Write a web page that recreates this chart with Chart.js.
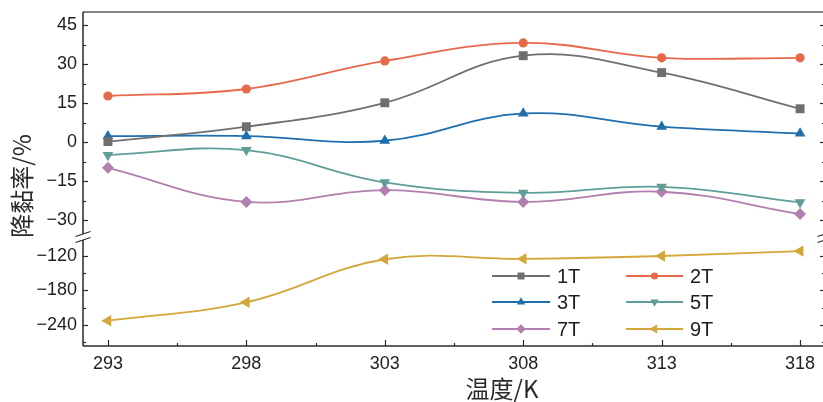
<!DOCTYPE html>
<html><head><meta charset="utf-8">
<script src="https://cdn.jsdelivr.net/npm/chart.js@4/dist/chart.umd.min.js"></script>
<style>html,body{margin:0;padding:0;background:#fff;overflow:hidden;width:823px;height:402px}canvas{display:block}</style>
</head><body>
<canvas id="c" width="835" height="402"></canvas>
<script>
// ---- data ----
const temps = [293, 298, 303, 308, 313, 318];
const s1T = [0.2, 5.9, 15.1, 33.2, 26.7, 12.8];
const s2T = [17.7, 20.4, 31.2, 38.1, 32.4, 32.4];
const s3T = [2.3, 2.3, 0.5, 11.0, 5.9, 3.3];
const s5T = [-5.0, -3.1, -15.5, -19.5, -17.2, -23.2];
const s7T = [-9.9, -23.0, -18.5, -23.0, -19.1, -27.7];
const s9T = [-232.5, -200.5, -125.7, -125.0, -120.0, -111.5];
const seriesLabels = ['1T', '2T', '3T', '5T', '7T', '9T'];
const upperTicks = [45, 30, 15, 0, -15, -30];
const lowerTicks = [-120, -180, -240];
const xTicks = [293, 298, 303, 308, 313, 318];
const upperMinor = [37.5, 22.5, 7.5, -7.5, -22.5];
const lowerMinor = [-150, -210, -270];
const xMinor = [295.5, 300.5, 305.5, 310.5, 315.5];
const xTitle = '温度/K';
const yTitle = '降黏率/%';

const colors = ['#6f6f72', '#e8694a', '#1f6eae', '#5f9e97', '#b27fae', '#d4a73a'];
const styles = [
  {ps: 'rect', rot: 0, r: 6.3},
  {ps: 'circle', rot: 0, r: 4.6},
  {ps: 'triangle', rot: 0, r: 6.2},
  {ps: 'triangle', rot: 180, r: 6.2},
  {ps: 'rectRot', rot: 0, r: 6.0},
  {ps: 'triangle', rot: -90, r: 6.6}
];
const values = [s1T, s2T, s3T, s5T, s7T, s9T];
const axisOf = ['yTop', 'yTop', 'yTop', 'yTop', 'yTop', 'yBot'];

const tickFont = {family: '"Liberation Sans", Arial, sans-serif', size: 18};
const fmt = v => (v < 0 ? '\u2212' + Math.abs(v) : String(v));

const datasets = values.map((vals, i) => ({
  label: seriesLabels[i],
  data: temps.map((t, j) => ({x: t, y: vals[j]})),
  yAxisID: axisOf[i],
  xAxisID: 'x',
  borderColor: colors[i],
  backgroundColor: colors[i],
  borderWidth: 1.8,
  pointStyle: styles[i].ps,
  pointRotation: styles[i].rot,
  pointRadius: styles[i].r,
  pointHoverRadius: styles[i].r,
  pointBorderWidth: 0,
  tension: 0.4,
  fill: false
}));

function marker(ctx, ps, rot, r, x, y, color) {
  ctx.save();
  ctx.fillStyle = color;
  ctx.translate(x, y);
  ctx.rotate(rot * Math.PI / 180);
  ctx.beginPath();
  if (ps === 'circle') {
    ctx.arc(0, 0, r, 0, Math.PI * 2);
  } else if (ps === 'rect') {
    const s = Math.SQRT1_2 * r;
    ctx.rect(-s, -s, 2 * s, 2 * s);
  } else if (ps === 'rectRot') {
    ctx.moveTo(-r, 0); ctx.lineTo(0, -r); ctx.lineTo(r, 0); ctx.lineTo(0, r); ctx.closePath();
  } else if (ps === 'triangle') {
    for (let k = 0; k < 3; k++) {
      const a = k * 2 * Math.PI / 3;
      const px = Math.sin(a) * r, py = -Math.cos(a) * r;
      if (k === 0) ctx.moveTo(px, py); else ctx.lineTo(px, py);
    }
    ctx.closePath();
  }
  ctx.fill();
  ctx.restore();
}

const framePlugin = {
  id: 'frame',
  beforeDatasetsDraw(chart) {
    const ctx = chart.ctx;
    const {left, right, top, bottom} = chart.chartArea;
    const yT = chart.scales.yTop, yB = chart.scales.yBot, xs = chart.scales.x;
    const brk = yT.bottom;
    ctx.save();
    ctx.lineCap = 'butt';
    ctx.strokeStyle = '#5a5a5a';
    ctx.lineWidth = 1.6;
    ctx.beginPath(); ctx.moveTo(left, top); ctx.lineTo(right, top); ctx.stroke();
    ctx.strokeStyle = '#2a2a2a';
    ctx.lineWidth = 1.5;
    [left, right].forEach(ax => {
      ctx.beginPath();
      ctx.moveTo(ax, top); ctx.lineTo(ax, brk - 3);
      ctx.moveTo(ax, brk + 3); ctx.lineTo(ax, bottom);
      ctx.stroke();
      ctx.lineWidth = 1.2;
      [-3, 3].forEach(d => {
        ctx.beginPath();
        ctx.moveTo(ax - 7.5, brk + d + 2.5);
        ctx.lineTo(ax + 7.5, brk + d - 2.5);
        ctx.stroke();
      });
      ctx.lineWidth = 1.5;
    });
    ctx.beginPath(); ctx.moveTo(left, bottom); ctx.lineTo(right, bottom); ctx.stroke();
    ctx.lineWidth = 1.2;
    const hTick = (sc, v, len) => {
      const y = Math.round(sc.getPixelForValue(v)) + 0.5;
      ctx.beginPath(); ctx.moveTo(left, y); ctx.lineTo(left + len, y); ctx.stroke();
      ctx.beginPath(); ctx.moveTo(right, y); ctx.lineTo(right - len, y); ctx.stroke();
    };
    upperTicks.forEach(v => hTick(yT, v, 5));
    upperMinor.forEach(v => hTick(yT, v, 3));
    lowerTicks.forEach(v => hTick(yB, v, 5));
    lowerMinor.forEach(v => hTick(yB, v, 3));
    const vTick = (v, len) => {
      const x = Math.round(xs.getPixelForValue(v)) + 0.5;
      ctx.beginPath(); ctx.moveTo(x, bottom); ctx.lineTo(x, bottom - len); ctx.stroke();
    };
    xTicks.forEach(v => vTick(v, 6));
    xMinor.forEach(v => vTick(v, 3));
    ctx.restore();
  },
  afterDraw(chart) {
    const ctx = chart.ctx;
    ctx.save();
    const ds = chart.data.datasets;
    const rowsY = [276, 302, 329];
    const cols = [{x1: 492, x2: 550, tx: 557}, {x1: 626, x2: 683, tx: 690}];
    ctx.font = '20px "Liberation Sans", Arial, sans-serif';
    ctx.textBaseline = 'middle';
    ctx.textAlign = 'left';
    ds.forEach((d, i) => {
      const row = Math.floor(i / 2), col = i % 2;
      const y = rowsY[row], c = cols[col];
      ctx.strokeStyle = d.borderColor;
      ctx.lineWidth = 1.8;
      ctx.beginPath(); ctx.moveTo(c.x1, y); ctx.lineTo(c.x2, y); ctx.stroke();
      marker(ctx, d.pointStyle, d.pointRotation, d.pointRadius * 0.78, (c.x1 + c.x2) / 2, y, d.borderColor);
      ctx.fillStyle = '#1e1e1e';
      ctx.fillText(d.label, c.tx, y + 1);
    });
    ctx.fillStyle = '#2a2a2a';
    ctx.font = '24px "Noto Sans CJK SC", sans-serif';
    ctx.textAlign = 'center';
    ctx.textBaseline = 'middle';
    ctx.fillText(xTitle, 502, 389);
    ctx.translate(22, 186);
    ctx.rotate(-Math.PI / 2);
    ctx.fillText(yTitle, 0, 0);
    ctx.restore();
  }
};

const noPad = s => { s.paddingTop = 0; s.paddingBottom = 0; s.paddingLeft = 0; s.paddingRight = 0; };

const yCommon = {
  type: 'linear',
  position: 'left',
  stack: 'ybreak',
  grid: {display: false, drawTicks: false},
  border: {display: false},
  ticks: {font: tickFont, color: '#222', padding: 6, autoSkip: false, callback: v => fmt(v)},
  afterFit: s => { s.width = 83; noPad(s); }
};

new Chart(document.getElementById('c'), {
  type: 'line',
  data: {datasets},
  options: {
    responsive: false,
    animation: false,
    devicePixelRatio: 1,
    layout: {padding: {left: 0, top: 12, right: 10, bottom: 0}},
    plugins: {legend: {display: false}, tooltip: {enabled: false}},
    scales: {
      x: {
        type: 'linear', min: 292.1, max: 318.9,
        grid: {display: false, drawTicks: false},
        border: {display: false},
        ticks: {font: tickFont, color: '#222', padding: 7, maxRotation: 0, autoSkip: false, callback: v => String(v)},
        afterBuildTicks: s => { s.ticks = xTicks.map(v => ({value: v})); },
        afterFit: s => { s.height = 56; noPad(s); }
      },
      yTop: Object.assign({}, yCommon, {
        min: -36.5, max: 50, stackWeight: 225, weight: 1,
        afterBuildTicks: s => { s.ticks = upperTicks.map(v => ({value: v})); }
      }),
      yBot: Object.assign({}, yCommon, {
        min: -276.5, max: -87, stackWeight: 109, weight: 0,
        afterBuildTicks: s => { s.ticks = lowerTicks.map(v => ({value: v})); }
      })
    }
  },
  plugins: [framePlugin]
});
</script>
</body></html>
